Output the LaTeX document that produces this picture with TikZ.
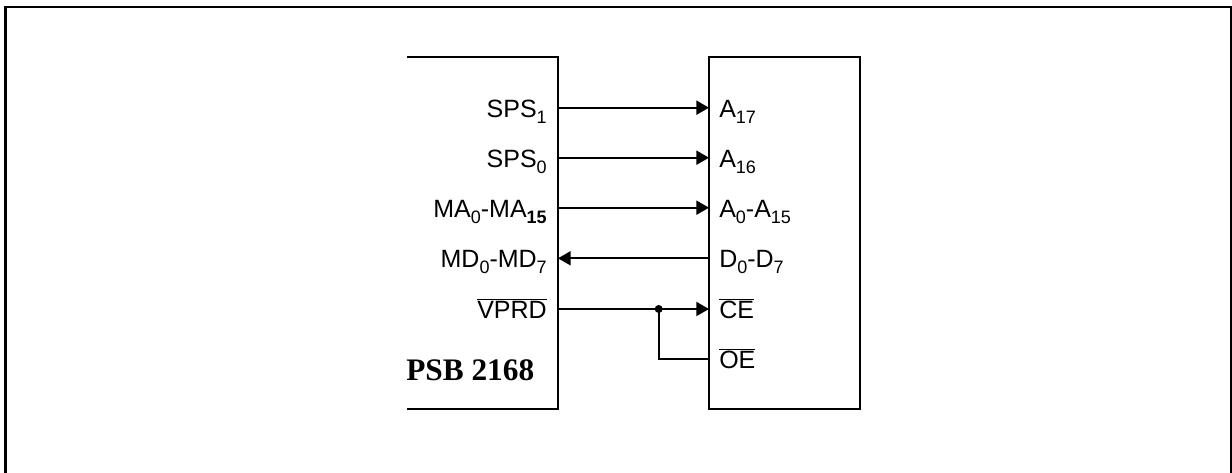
\documentclass[tikz,border=0pt]{standalone}
\usepackage{fontspec}
\setmainfont{Liberation Sans}
\newfontfamily\chipfont{Liberation Serif}
\usetikzlibrary{arrows.meta}
\tikzset{
  chipbox/.style={minimum width=113.25pt, minimum height=264.4pt, inner sep=0pt, outer sep=0pt},
  pinlabel/.style={inner sep=0pt, font=\fontsize{18.75}{20}\selectfont},
  leftlabel/.style={pinlabel, anchor=base east},
  rightlabel/.style={pinlabel, anchor=base west},
  wire/.style={line width=1.5pt},
  sigline/.style={wire, -{Triangle[length=9.5pt, width=10.5pt]}},
  framing/.style={line width=1.9pt},
}
\newcommand{\lowidx}[1]{\raisebox{-4.2pt}{\fontsize{13.5}{14}\selectfont #1}}
\newcommand{\barred}[1]{$\overline{\mbox{#1}}$}

\begin{document}
\begin{tikzpicture}[x=0.75pt, y=-0.75pt]
  \useasboundingbox (0,0) rectangle (1232,473);

  % outer frame, open at the bottom
  \coordinate (fbl) at (5.3,473);
  \coordinate (ftl) at (5.3,7);
  \coordinate (ftr) at (1231,7);
  \coordinate (fbr) at (1231,473);
  \draw[framing] (fbl) -- (ftl) -- (ftr) -- (fbr);

  % the two chips
  \node[chipbox] (psb) at (482.5,232.8) {};
  \draw[wire] (psb.north west) -- (psb.north east) -- (psb.south east) -- (psb.south west);
  \node[chipbox, draw, line width=1.5pt] (mem) at (784.5,232.8) {};

  \node[anchor=base west, inner sep=0pt, font=\chipfont\bfseries\fontsize{23.5}{25}\selectfont]
    (psbname) at (406,380.7) {PSB 2168};

  % pins
  \coordinate (sps1) at (psb.east |- 0,107.7);
  \coordinate (sps0) at (psb.east |- 0,157.7);
  \coordinate (ma) at (psb.east |- 0,207.7);
  \coordinate (md) at (psb.east |- 0,258.3);
  \coordinate (vprd) at (psb.east |- 0,309);
  \coordinate (oe) at (mem.west |- 0,358.7);
  \coordinate (jct) at (658.7,309);

  \draw[sigline] (sps1) -- (sps1 -| mem.west);
  \draw[sigline] (sps0) -- (sps0 -| mem.west);
  \draw[sigline] (ma) -- (ma -| mem.west);
  \draw[sigline] (md -| mem.west) -- (md);
  \draw[sigline] (vprd) -- (vprd -| mem.west);
  \draw[wire] (jct) -- (jct |- oe) -- (oe);
  \fill (jct) circle (4);

  % left labels
  \node[leftlabel] (lsps1) at (547,117.7) {SPS\lowidx{1}};
  \node[leftlabel] (lsps0) at (547,168) {SPS\lowidx{0}};
  \node[leftlabel] (lma) at (547,218) {MA\lowidx{0}-MA\lowidx{\bfseries 15}};
  \node[leftlabel] (lmd) at (547,267.7) {MD\lowidx{0}-MD\lowidx{7}};
  \node[leftlabel] (lvprd) at (547,318.3) {\barred{VPRD}};

  % right labels
  \node[rightlabel] (la17) at (719,117.7) {A\lowidx{17}};
  \node[rightlabel] (la16) at (719,168) {A\lowidx{16}};
  \node[rightlabel] (la0) at (719,218) {A\lowidx{0}-A\lowidx{15}};
  \node[rightlabel] (ld0) at (719,267.7) {D\lowidx{0}-D\lowidx{7}};
  \node[rightlabel] (lce) at (719,318.3) {\barred{CE}};
  \node[rightlabel] (loe) at (719,368.3) {\barred{OE}};
\end{tikzpicture}
\end{document}
